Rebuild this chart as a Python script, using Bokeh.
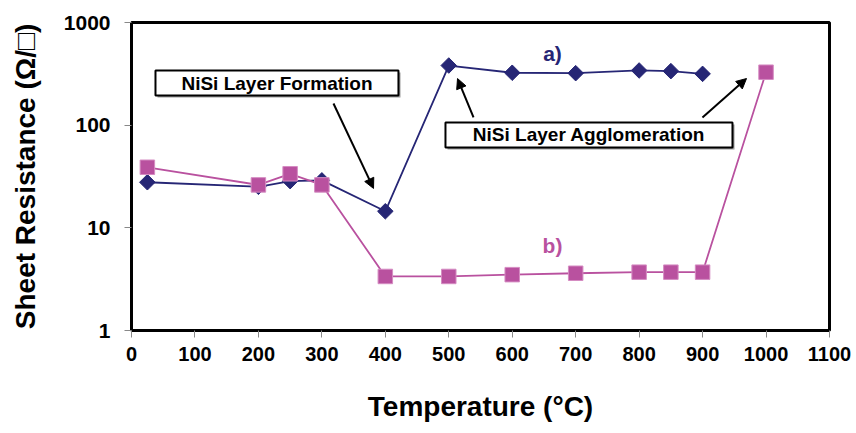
import numpy as np
from bokeh.plotting import figure
from bokeh.models import FixedTicker, Arrow, NormalHead
from bokeh.core.properties import value
from bokeh.embed import file_html
from bokeh.resources import INLINE

# ---- data ----
temp_a = [25, 200, 250, 300, 400, 500, 600, 700, 800, 850, 900]
rs_a = [27.8, 25.1, 28.5, 29.0, 14.5, 381, 324, 321, 341, 336, 316]

temp_b = [25, 200, 250, 300, 400, 500, 600, 700, 800, 850, 900, 1000]
rs_b = [38.9, 26.2, 33.6, 26.2, 3.36, 3.36, 3.5, 3.61, 3.70, 3.70, 3.70, 328]

x_ticks = [0, 100, 200, 300, 400, 500, 600, 700, 800, 900, 1000, 1100]
y_ticks = [1, 10, 100, 1000]
y_tick_labels = ["1", "10", "100", "1000"]

# annotations (data coordinates)
box_text = ["NiSi Layer Formation", "NiSi Layer Agglomeration"]
box_left = [37.8, 494.8]
box_right = [420.7, 947.1]
box_top = [340.7, 106.2]
box_bottom = [194.5, 60.6]

arrow_x0 = [318.3, 539.0, 899.8]
arrow_y0 = [162.6, 118.8, 118.8]
arrow_x1 = [381.4, 513.8, 969.2]
arrow_y1 = [24.2, 284.6, 284.6]

series_labels = ["a)", "b)"]
series_label_x = [663.5, 663.5]
series_label_y = [499.0, 6.73]

NAVY = "#262675"
MAGENTA = "#B9519F"
FONT = "Liberation Sans"

p = figure(width=856, height=433, output_backend="svg", toolbar_location=None,
           x_range=(0, 1100), y_range=(1, 1000), y_axis_type="log",
           min_border_left=131, min_border_right=27, min_border_top=22,
           min_border_bottom=103, background_fill_color="white",
           border_fill_color="white")

p.xgrid.visible = False
p.ygrid.visible = False
p.outline_line_color = "black"
p.outline_line_width = 3

for ax in (p.xaxis[0], p.yaxis[0]):
    ax.axis_line_color = None
    ax.major_tick_line_color = "#888888"
    ax.major_tick_line_width = 1
    ax.major_tick_in = 0
    ax.major_tick_out = 7
    ax.minor_tick_line_color = None
    ax.major_label_text_font = FONT
    ax.major_label_text_font_style = "bold"
    ax.major_label_text_color = "black"
    ax.axis_label_text_font = FONT
    ax.axis_label_text_font_style = "bold"
    ax.axis_label_text_color = "black"

p.xaxis.ticker = FixedTicker(ticks=x_ticks)
p.xaxis.major_label_text_font_size = "20px"
p.xaxis.major_label_standoff = 9
p.xaxis.axis_label = "Temperature (°C)"
p.xaxis.axis_label_text_font_size = "28px"
p.xaxis.axis_label_standoff = 27

p.yaxis.ticker = FixedTicker(ticks=y_ticks)
p.yaxis.major_label_overrides = {t: l for t, l in zip(y_ticks, y_tick_labels)}
p.yaxis.major_label_text_font_size = "21px"
p.yaxis.major_label_standoff = 14
p.yaxis.axis_label = "Sheet Resistance (Ω/□)"
p.yaxis.axis_label_text_font_size = "28px"
p.yaxis.axis_label_standoff = 20

# series lines and markers
p.line(temp_a, rs_a, line_color=NAVY, line_width=1.8)
p.line(temp_b, rs_b, line_color=MAGENTA, line_width=1.8)
p.scatter(temp_a, rs_a, marker="square", angle=np.pi / 4, size=11,
          fill_color=NAVY, line_color=NAVY)
p.scatter(temp_b, rs_b, marker="square", size=14.5,
          fill_color=MAGENTA, line_color="#D58CC2", line_width=1)

# series labels
p.text(series_label_x, series_label_y, text=series_labels,
       text_color=[NAVY, MAGENTA], text_font=value(FONT), text_font_style="bold",
       text_font_size="21px", text_align="center", text_baseline="middle")

# annotation boxes with shadow
dx = 3.2
fy = 0.955
p.quad(left=[l + dx for l in box_left], right=[r + dx for r in box_right],
       top=[t * fy for t in box_top], bottom=[b * fy for b in box_bottom],
       fill_color="#9a9a9a", line_color=None)
p.quad(left=box_left, right=box_right, top=box_top, bottom=box_bottom,
       fill_color="white", line_color="black", line_width=2)
p.text([(l + r) / 2 for l, r in zip(box_left, box_right)],
       [np.sqrt(t * b) for t, b in zip(box_top, box_bottom)],
       text=box_text, text_color="black", text_font=value(FONT),
       text_font_style="bold", text_font_size="19px",
       text_align="center", text_baseline="middle")

for x0, y0, x1, y1 in zip(arrow_x0, arrow_y0, arrow_x1, arrow_y1):
    p.add_layout(Arrow(end=NormalHead(size=10, fill_color="black", line_color="black"),
                       x_start=x0, y_start=y0, x_end=x1, y_end=y1,
                       line_color="black", line_width=2))

open("out.html", "w").write(file_html(p, INLINE))
